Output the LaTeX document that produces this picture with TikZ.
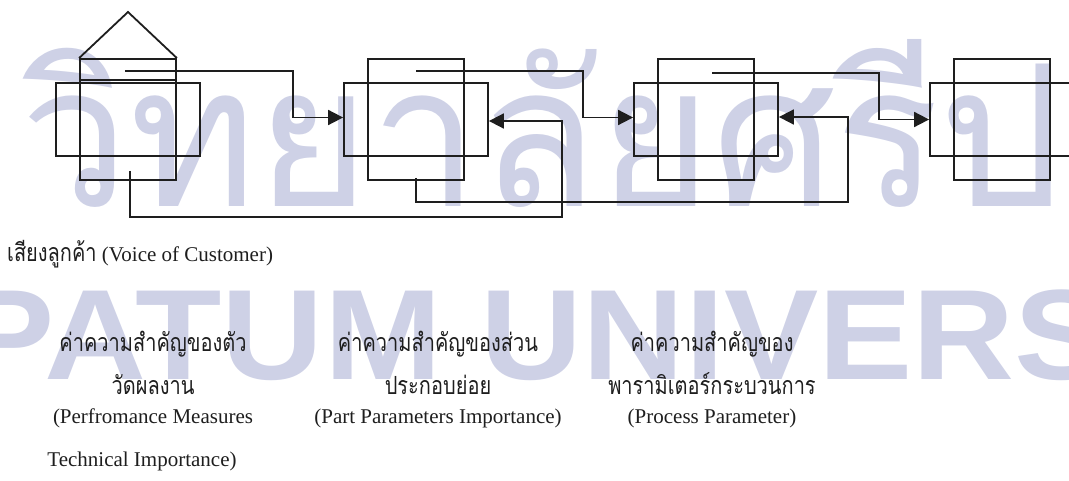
\documentclass[tikz,border=0pt]{standalone}
\usepackage{fontspec}
\setmainfont{Liberation Serif}
\newfontfamily\thaifont[Script=Thai, FakeStretch=0.8]{Loma}
\newfontfamily\thaiwide[Script=Thai]{Loma}
\newfontfamily\marksans{Liberation Sans}
\usetikzlibrary{arrows.meta,calc}
\definecolor{ink}{RGB}{30,30,30}
\definecolor{wmark}{RGB}{206,209,230}
\tikzset{
  tallbox/.style={draw=ink, line width=1.8pt, minimum width=96pt, minimum height=121pt, inner sep=0pt},
  widebox/.style={draw=ink, line width=1.8pt, minimum width=144pt, minimum height=73pt, inner sep=0pt},
  link/.style={draw=ink, line width=1.8pt},
  flow/.style={link, -{Triangle[length=15pt,width=15pt]}},
  caption/.style={text=ink, inner sep=0pt, anchor=base, font=\fontsize{21}{25}\selectfont},
  thaicap/.style={caption, font=\fontsize{25}{28}\thaifont},
  markthai/.style={text=wmark, inner sep=0pt, anchor=base west},
  marklatin/.style={text=wmark, inner sep=0pt, anchor=base west, font=\fontsize{128.5}{130}\marksans\bfseries},
}
\begin{document}
\begin{tikzpicture}[x=1pt, y=-1pt]
\useasboundingbox (0,0) rectangle (1069,481);
\begin{scope}
\clip (0,0) rectangle (1069,481);

% background lettering
\node[markthai] (wmtop) at (20,207)
  {\resizebox{1040pt}{167pt}{\thaiwide วิทยาลัยศรีป}};
\node[marklatin] (wmbottom) at (-40,379) {\scalebox{1.1}[1]{PATUM UNIVERS}};

% four stages: a tall and a wide frame per stage
\foreach \i/\cx in {1/128, 2/416, 3/706, 4/1002} {
  \node[tallbox] (t\i) at (\cx,119.5) {};
  \node[widebox] (w\i) at (\cx,119.5) {};
}

% roof of the first stage
\coordinate (apex) at (128,12);
\draw[link, line join=miter] (t1.north west) -- (apex) -- (t1.north east);
\draw[link] ([yshift=-22pt]t1.north west) -- ([yshift=-22pt]t1.north east);

% forward links
\coordinate (s1) at (125,71);
\coordinate (s2) at (416,71);
\coordinate (s3) at (712,73);
\draw[flow] (s1) -| ($(w2.west)+(-50,-2)$) -- ($(w2.west)+(0,-2)$);
\draw[flow] (s2) -| ($(w3.west)+(-50,-2)$) -- ($(w3.west)+(0,-2)$);
\draw[flow] (s3) -| ($(w4.west)+(-50,0)$) -- (w4.west);

% feedback links
\coordinate (b1) at (130,171);
\coordinate (b2) at (416,178);
\draw[flow] (b1) |- (562,217) |- ($(w2.east)+(0,1.5)$);
\draw[flow] (b2) |- (848,202) |- ($(w3.east)+(0,-2.5)$);
\end{scope}

% captions
\node[caption, anchor=base west] (voc) at (7,262)
  {{\fontsize{25}{28}\thaifont เสียงลูกค้า} (Voice of Customer)};

\node[thaicap] (p1) at (153,352) {ค่าความสำคัญของตัว};
\node[thaicap] (p2) at (153,394) {วัดผลงาน};
\node[caption] (p3) at (153,423) {(Perfromance Measures};
\node[caption] (p4) at (142,466) {Technical Importance)};

\node[thaicap] (q1) at (438,352) {ค่าความสำคัญของส่วน};
\node[thaicap] (q2) at (438,394) {ประกอบย่อย};
\node[caption] (q3) at (438,423) {(Part Parameters Importance)};

\node[thaicap] (r1) at (712,352) {ค่าความสำคัญของ};
\node[thaicap] (r2) at (712,394) {พารามิเตอร์กระบวนการ};
\node[caption] (r3) at (712,423) {(Process Parameter)};
\end{tikzpicture}
\end{document}
